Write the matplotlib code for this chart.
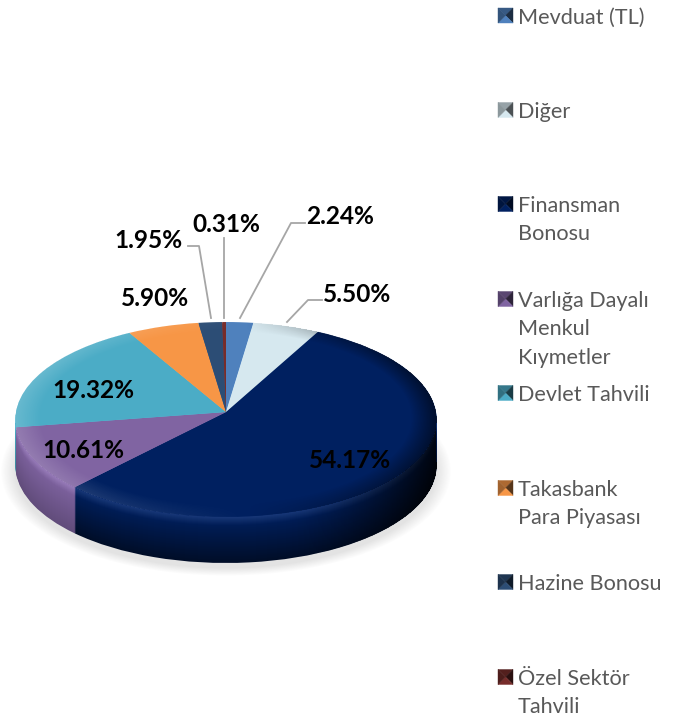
import numpy as np
import matplotlib
matplotlib.use("Agg")
import matplotlib.pyplot as plt
import matplotlib.transforms as mtransforms
from matplotlib.colors import to_rgb
from matplotlib.patches import Polygon

# data, clockwise from 12 o'clock
categories = ["Mevduat (TL)", "Diğer", "Finansman\nBonosu", "Varlığa Dayalı\nMenkul\nKıymetler",
              "Devlet Tahvili", "Takasbank\nPara Piyasası", "Hazine Bonosu", "Özel Sektör\nTahvili"]
shares = [2.24, 5.50, 54.17, 10.61, 19.32, 5.90, 1.95, 0.31]
colors = ["#4f81bd", "#d6e8ef", "#002060", "#8064a2", "#4bacc6", "#f79646", "#2c4d75", "#772c2a"]
label_texts = ["2.24%", "5.50%", "54.17%", "10.61%", "19.32%", "5.90%", "1.95%", "0.31%"]

# layout in pixels
label_pos = [(340, 217), (357, 294), (350, 460), (83, 450), (93, 390), (155, 299), (149, 240), (226, 224)]
leaders = {
    "2.24%": [(240, 318), (291, 223), (305, 223)],
    "5.50%": [(287, 322), (308, 300), (322, 300)],
    "1.95%": [(188, 246), (199, 246), (211, 318)],
    "0.31%": [(224, 238), (224, 318)],
}
legend_y = [15.5, 110, 204, 299, 393, 488, 582, 677]

CX, CY = 226, 412
RX = 210
RY = 96.9
K = 0.077
DEPTH = 46

plt.rcParams["font.family"] = ["Lato", "DejaVu Sans"]


class PieProjection(mtransforms.Transform):
    """tilts the flat unit pie into picture pixels"""
    input_dims = 2
    output_dims = 2

    def __init__(self, drop=0):
        super().__init__()
        self.drop = drop

    def transform_non_affine(self, values):
        values = np.asarray(values)
        w = 1 + K * values[:, 1]
        return np.column_stack((CX + RX * values[:, 0] / w,
                                CY + self.drop - RY * values[:, 1] / w))


def unit_coords(px, py, drop=0):
    """pixel grid back to pie coordinates"""
    dy = py - CY - drop
    y = -dy / (RY + K * dy)
    x = (px - CX) * (1 + K * y) / RX
    return x, y


def wall_colour(c, t):
    rgb = np.array(to_rgb(c))
    lum = rgb.mean()
    shade = 1.0 - t * max(0.2, 0.75 - lum)
    glow = max(0.0, 0.10 - 0.5 * t)
    return tuple(np.clip(rgb * shade + glow, 0, 1))


fig = plt.figure(figsize=(6.77, 7.22), dpi=100)
ax = fig.add_axes([0, 0, 1, 1])

px, py = np.meshgrid(np.arange(0, 677) + 0.5, np.arange(0, 722) + 0.5)

# soft shadow under the pie
x, y = unit_coords(px, py, drop=DEPTH + 5)
r = np.hypot(x, y)
shadow = np.zeros(px.shape + (4,))
shadow[..., :3] = 0.55
shadow[..., 3] = np.clip((1.07 - r) / 0.07, 0, 1) * 0.24
ax.imshow(shadow, extent=(0, 677, 722, 0), aspect="auto", zorder=1, interpolation="bilinear")

# side wall, stacked from the bottom up
for i, drop in enumerate(range(DEPTH, 0, -1)):
    t = drop / DEPTH
    wedges, _ = ax.pie(shares, colors=[wall_colour(c, t) for c in colors], startangle=90,
                       counterclock=False, wedgeprops={"linewidth": 0})
    for w in wedges:
        w.set_transform(PieProjection(drop) + ax.transData)
        w.set_zorder(2 + i * 0.01)

# darken the wall towards the right hand side
wall = np.zeros(px.shape + (4,))
wall[..., 3] = 0.8 * np.clip((px - CX - 60) / (RX - 60), 0, 1) ** 1.5
x_low, y_low = unit_coords(px, py, drop=DEPTH)
inside = (np.hypot(x_low, y_low) <= 1.0) | ((np.abs(px - CX) <= RX) & (py > CY) & (py < CY + DEPTH))
wall[..., 3] *= inside
ax.imshow(wall, extent=(0, 677, 722, 0), aspect="auto", zorder=2.9, interpolation="bilinear")

# top face
wedges, _ = ax.pie(shares, colors=colors, startangle=90, counterclock=False,
                   wedgeprops={"linewidth": 0.6, "edgecolor": "none"})
for w in wedges:
    w.set_transform(PieProjection(0) + ax.transData)
    w.set_zorder(3)

# bevel: lighter to the left, darker to the right
x, y = unit_coords(px, py)
r = np.hypot(x, y)
ring = np.clip((r - 0.88) / 0.12, 0, 1) * (r <= 1.0)
side = np.where(r > 0, x / np.maximum(r, 1e-6), 0)
overlay = np.zeros(px.shape + (4,))
light = side < 0.1
overlay[..., :3] = np.where(light[..., None], 1.0, 0.0)
overlay[..., 3] = ring * np.where(light, 0.16 * np.clip(0.1 - side, 0, 1),
                                  0.6 * np.clip(side - 0.1, 0, 1))
ax.imshow(overlay, extent=(0, 677, 722, 0), aspect="auto", zorder=4, interpolation="bilinear")

ax.set_aspect("auto")
ax.set_xlim(0, 677)
ax.set_ylim(722, 0)
ax.axis("off")

# leader lines and value labels
for text, (lx, ly) in zip(label_texts, label_pos):
    ax.text(lx, ly, text, ha="center", va="center", fontsize=17.6, fontweight="bold",
            color="black", zorder=6)
    if text in leaders:
        pts = np.array(leaders[text])
        ax.plot(pts[:, 0], pts[:, 1], color="#a6a6a6", lw=1.3, zorder=5)

# legend with the little pyramid swatches
for name, c, ly in zip(categories, colors, legend_y):
    x0, x1, y0, y1 = 498, 513, ly - 7.5, ly + 7.5
    xm, ym = (x0 + x1) / 2, (y0 + y1) / 2
    rgb = np.array(to_rgb(c))
    faces = [([(x0, y0), (x1, y0), (xm, ym)], 0.7),
             ([(x1, y0), (x1, y1), (xm, ym)], 0.35),
             ([(x0, y1), (x1, y1), (xm, ym)], 1.0),
             ([(x0, y0), (x0, y1), (xm, ym)], 0.65)]
    for verts, f in faces:
        col = tuple(rgb * f)
        ax.add_patch(Polygon(verts, closed=True, facecolor=col, edgecolor=col, lw=0.3, zorder=6))
    ax.text(518, ly - 8, name, ha="left", va="top", fontsize=15.6, color="#595959",
            linespacing=1.53, zorder=6)

fig.savefig("out.png", dpi=100)
